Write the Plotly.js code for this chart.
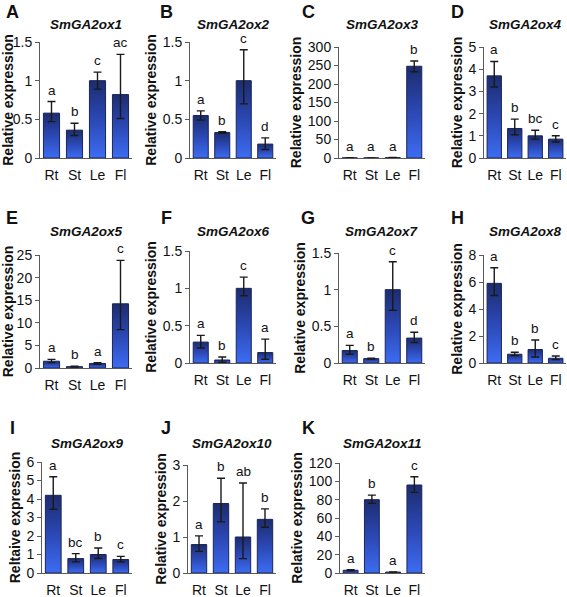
<!DOCTYPE html>
<html><head><meta charset="utf-8">
<script src="https://cdn.plot.ly/plotly-3.0.1.min.js"></script>
<style>html,body{margin:0;padding:0;background:#fff}</style>
</head><body>
<div id="chart" style="width:567px;height:597px"></div>
<script>
// ---------- DATA ----------
const tissues = ['Rt', 'St', 'Le', 'Fl'];
const genes = ['SmGA2ox1','SmGA2ox2','SmGA2ox3','SmGA2ox4','SmGA2ox5','SmGA2ox6',
               'SmGA2ox7','SmGA2ox8','SmGA2ox9','SmGA2ox10','SmGA2ox11'];
const panelLetters = ['A','B','C','D','E','F','G','H','I','J','K'];
const yTitles = ['Relative expression','Relative expression','Relative expression','Relative expression',
                 'Relative expression','Relative expression','Relative expression','Relative expression',
                 'Reltaive expression','Relative expression','Relative expression'];

// means, upper error, lower error, significance letters
const ox1Mean = [0.58, 0.36, 1.00, 0.82];  const ox1Up = [0.15, 0.09, 0.11, 0.52];  const ox1Lo = [0.11, 0.07, 0.11, 0.31];  const ox1Sig = ['a','b','c','ac'];
const ox2Mean = [0.55, 0.33, 1.00, 0.18];  const ox2Up = [0.06, 0.01, 0.40, 0.08];  const ox2Lo = [0.06, 0.01, 0.30, 0.07];  const ox2Sig = ['a','b','c','d'];
const ox3Mean = [0.4, 0.3, 1.0, 248];      const ox3Up = [0.1, 0.1, 0.2, 14];       const ox3Lo = [0.1, 0.1, 0.2, 15];       const ox3Sig = ['a','a','a','b'];
const ox4Mean = [3.70, 1.33, 1.00, 0.85];  const ox4Up = [0.65, 0.42, 0.25, 0.15];  const ox4Lo = [0.50, 0.28, 0.15, 0.13];  const ox4Sig = ['a','b','bc','c'];
const ox5Mean = [1.5, 0.3, 1.0, 14.2];     const ox5Up = [0.4, 0.1, 0.2, 9.6];      const ox5Lo = [0.3, 0.1, 0.2, 5.7];      const ox5Sig = ['a','b','a','c'];
const ox6Mean = [0.28, 0.04, 1.00, 0.14];  const ox6Up = [0.09, 0.04, 0.15, 0.18];  const ox6Lo = [0.08, 0.03, 0.10, 0.09];  const ox6Sig = ['a','b','c','a'];
const ox7Mean = [0.17, 0.06, 1.00, 0.34];  const ox7Up = [0.07, 0.005, 0.38, 0.08]; const ox7Lo = [0.05, 0.005, 0.28, 0.06]; const ox7Sig = ['a','b','c','d'];
const ox8Mean = [5.9, 0.65, 1.0, 0.35];    const ox8Up = [1.15, 0.15, 0.7, 0.17];   const ox8Lo = [0.9, 0.1, 0.55, 0.1];     const ox8Sig = ['a','b','b','c'];
const ox9Mean = [4.2, 0.78, 1.0, 0.73];    const ox9Up = [1.0, 0.27, 0.35, 0.17];   const ox9Lo = [0.75, 0.18, 0.22, 0.13];  const ox9Sig = ['a','bc','b','c'];
const ox10Mean = [0.79, 1.93, 1.00, 1.49]; const ox10Up = [0.24, 0.70, 1.50, 0.29]; const ox10Lo = [0.19, 0.51, 0.60, 0.22]; const ox10Sig = ['a','b','ab','b'];
const ox11Mean = [3.0, 80, 1.0, 96];       const ox11Up = [0.5, 5, 0.2, 9];         const ox11Lo = [0.5, 4, 0.2, 8];         const ox11Sig = ['a','b','a','c'];

const yMax  = [1.5, 1.5, 300, 5, 25, 1.5, 1.5, 8, 6, 3, 120];
const yStep = [0.5, 0.5, 50, 1, 5, 0.5, 0.5, 2, 1, 1, 20];

const means = [ox1Mean, ox2Mean, ox3Mean, ox4Mean, ox5Mean, ox6Mean, ox7Mean, ox8Mean, ox9Mean, ox10Mean, ox11Mean];
const ups   = [ox1Up, ox2Up, ox3Up, ox4Up, ox5Up, ox6Up, ox7Up, ox8Up, ox9Up, ox10Up, ox11Up];
const los   = [ox1Lo, ox2Lo, ox3Lo, ox4Lo, ox5Lo, ox6Lo, ox7Lo, ox8Lo, ox9Lo, ox10Lo, ox11Lo];
const sigs  = [ox1Sig, ox2Sig, ox3Sig, ox4Sig, ox5Sig, ox6Sig, ox7Sig, ox8Sig, ox9Sig, ox10Sig, ox11Sig];

// ---------- LAYOUT (pixel boxes: left, right, top, bottom) ----------
const W = 567, H = 597;
const boxes = [
  [40, 132, 42, 158], [190, 276, 42, 158], [339, 425, 47, 158], [484, 566, 47, 158],
  [40, 132, 255, 368], [190, 276, 251, 363], [339, 425, 253, 363], [484, 566, 255, 363],
  [42, 132, 462, 573], [188, 276, 465, 573], [340, 425, 463, 573]
];
const titleY  = [25, 231, 443];
const letterY = [12, 218, 428];
const letterX = [12, 166, 308, 457];

const FONT = 'Liberation Sans, Arial, sans-serif';
const axisCol = '#5a5a5a';
const traces = [];
const layout = {
  width: W, height: H, margin: {l: 0, r: 0, t: 0, b: 0},
  paper_bgcolor: '#fff', plot_bgcolor: 'rgba(0,0,0,0)',
  showlegend: false, bargap: 0.3,
  font: {family: FONT, color: '#111', size: 14},
  annotations: []
};

for (let i = 0; i < genes.length; i++) {
  const n = i === 0 ? '' : String(i + 1);
  const [l, r, t, b] = boxes[i];
  const row = Math.floor(i / 4), col = i % 4;
  traces.push({
    type: 'bar', x: tissues, y: means[i], xaxis: 'x' + n, yaxis: 'y' + n,
    marker: {color: '#2c4cc4', line: {color: '#1b2558', width: 1}},
    error_y: {type: 'data', symmetric: false, array: ups[i], arrayminus: los[i],
              color: '#1a1a1a', thickness: 1.4, width: 4},
    hoverinfo: 'skip', showlegend: false
  });
  layout['xaxis' + n] = {
    domain: [l / W, r / W], anchor: 'y' + n, range: [-0.5, 3.5], fixedrange: true,
    showline: true, linecolor: axisCol, linewidth: 1, ticks: '', showgrid: false, zeroline: false,
    ticklabelstandoff: 4,
    tickfont: {family: FONT, size: 14, color: '#111'}
  };
  layout['yaxis' + n] = {
    domain: [1 - b / H, 1 - t / H], anchor: 'x' + n, range: [0, yMax[i]], dtick: yStep[i], tick0: 0,
    showline: true, linecolor: axisCol, linewidth: 1, ticks: 'outside', ticklen: 4, tickcolor: axisCol,
    showgrid: false, zeroline: false, fixedrange: true,
    tickfont: {family: FONT, size: 14, color: '#111'},
    title: {text: yTitles[i], standoff: 2, font: {family: FONT, size: 14, weight: 'bold', color: '#111'}}
  };
  // gene title
  layout.annotations.push({
    xref: 'paper', yref: 'paper', x: ((l + r) / 2) / W, y: 1 - titleY[row] / H,
    xanchor: 'center', yanchor: 'middle', showarrow: false, text: genes[i],
    font: {family: FONT, size: 13.5, weight: 'bold', style: 'italic', color: '#111'}
  });
  // panel letter
  layout.annotations.push({
    xref: 'paper', yref: 'paper', x: letterX[col] / W, y: 1 - letterY[row] / H,
    xanchor: 'center', yanchor: 'middle', showarrow: false, text: panelLetters[i],
    font: {family: FONT, size: 18, weight: 'bold', color: '#111'}
  });
  // significance letters
  for (let k = 0; k < tissues.length; k++) {
    layout.annotations.push({
      xref: 'x' + n, yref: 'y' + n, x: tissues[k], y: means[i][k] + ups[i][k],
      xanchor: 'center', yanchor: 'bottom', yshift: 2, showarrow: false, text: sigs[i][k],
      font: {family: FONT, size: 13.5, color: '#111'}
    });
  }
}

Plotly.newPlot('chart', traces, layout, {staticPlot: true, displayModeBar: false}).then(gd => {
  const ns = 'http://www.w3.org/2000/svg';
  const svg = gd.querySelector('svg.main-svg');
  let defs = svg.querySelector('defs');
  if (!defs) { defs = document.createElementNS(ns, 'defs'); svg.insertBefore(defs, svg.firstChild); }
  const lg = document.createElementNS(ns, 'linearGradient');
  lg.setAttribute('id', 'barGrad');
  lg.setAttribute('x1', '0'); lg.setAttribute('y1', '0'); lg.setAttribute('x2', '0'); lg.setAttribute('y2', '1');
  [['0%', '#1d2c6e'], ['50%', '#2b48b4'], ['100%', '#3d6cf2']].forEach(([o, c]) => {
    const s = document.createElementNS(ns, 'stop');
    s.setAttribute('offset', o); s.setAttribute('stop-color', c);
    lg.appendChild(s);
  });
  defs.appendChild(lg);
  gd.querySelectorAll('.barlayer .point path').forEach(p => { p.style.fill = 'url(#barGrad)'; });
});
</script>
</body></html>
